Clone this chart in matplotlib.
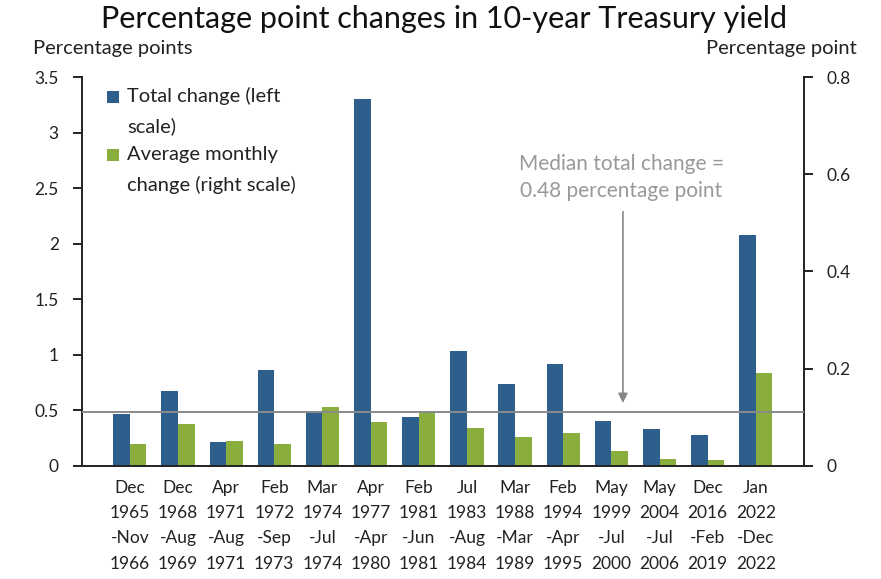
import matplotlib
matplotlib.use("Agg")
import matplotlib.pyplot as plt
from matplotlib.patches import Rectangle
import numpy as np

categories = ["Dec\n1965\n-Nov\n1966", "Dec\n1968\n-Aug\n1969", "Apr\n1971\n-Aug\n1971",
              "Feb\n1972\n-Sep\n1973", "Mar\n1974\n-Jul\n1974", "Apr\n1977\n-Apr\n1980",
              "Feb\n1981\n-Jun\n1981", "Jul\n1983\n-Aug\n1984", "Mar\n1988\n-Mar\n1989",
              "Feb\n1994\n-Apr\n1995", "May\n1999\n-Jul\n2000", "May\n2004\n-Jul\n2006",
              "Dec\n2016\n-Feb\n2019", "Jan\n2022\n-Dec\n2022"]
total_change = [0.47, 0.67, 0.21, 0.86, 0.49, 3.30, 0.44, 1.03, 0.74, 0.92, 0.40, 0.33, 0.28, 2.08]
avg_monthly = [0.045, 0.085, 0.051, 0.045, 0.121, 0.091, 0.111, 0.078, 0.060, 0.067, 0.030, 0.014, 0.011, 0.190]
median_total = 0.48
left_ticks = [0, 0.5, 1, 1.5, 2, 2.5, 3, 3.5]
left_ticklabels = ["0", "0.5", "1", "1.5", "2", "2.5", "3", "3.5"]
right_ticks = [0, 0.2, 0.4, 0.6, 0.8]
right_ticklabels = ["0", "0.2", "0.4", "0.6", "0.8"]

FONT = ["Lato", "DejaVu Sans"]
plt.rcParams['font.family'] = FONT

BLUE = "#2E5E8C"
GREEN = "#8AAE3E"
GREY = "#999999"
DARK = "#222222"

fig = plt.figure(figsize=(8.81, 5.79), dpi=100)
ax = fig.add_axes([0.0927, 0.1957, 0.9126 - 0.0927, 0.8665 - 0.1957])
ax2 = ax.twinx()

x = np.arange(len(categories))
w = 0.345
ax.bar(x - w / 2, total_change, width=w, color=BLUE, zorder=2)
ax2.bar(x + w / 2, avg_monthly, width=w, color=GREEN, zorder=2)
ax.axhline(median_total, color="#8a8a8a", lw=1.4, zorder=3)

ax.set_xlim(-1, 14)
ax.set_ylim(0, 3.5)
ax2.set_ylim(0, 0.8)

ax.set_yticks(left_ticks)
ax.set_yticklabels(left_ticklabels)
ax2.set_yticks(right_ticks)
ax2.set_yticklabels(right_ticklabels)
ax.set_xticks(x)
ax.set_xticklabels(categories, linespacing=1.72)

for a in (ax, ax2):
    a.spines['top'].set_visible(False)
    for s in a.spines.values():
        s.set_linewidth(1.4)
        s.set_color(DARK)
ax.spines['right'].set_visible(False)
ax2.spines['left'].set_visible(False)
ax2.spines['bottom'].set_visible(False)

ax.tick_params(axis='y', direction='out', length=6.5, width=1.4, labelsize=12.5, pad=10, colors=DARK)
ax2.tick_params(axis='y', direction='out', length=6.5, width=1.4, labelsize=12.5, pad=10, colors=DARK)
ax.tick_params(axis='x', length=0, labelsize=12.5, pad=10, colors=DARK)

ax.set_zorder(ax2.get_zorder() + 1)
ax.patch.set_visible(False)

fig.text(0.504, 0.968, "Percentage point changes in 10-year Treasury yield",
         ha="center", va="center", fontsize=22, color="#111111")
fig.text(0.037, 0.916, "Percentage points", ha="left", va="center", fontsize=14.5, color=DARK)
fig.text(0.973, 0.916, "Percentage point", ha="right", va="center", fontsize=14.5, color=DARK)

# legend (drawn in axes fraction coordinates)
trans = ax.transAxes
def ax_xy(px, py):
    return ((px - 81.7) / (804 - 81.7), (465.7 - py) / (465.7 - 77.3))

for (py, col) in [(97, BLUE), (155, GREEN)]:
    x0, y0 = ax_xy(106.7, py + 6.3)
    x1, y1 = ax_xy(119.3, py - 6.3)
    ax.add_patch(Rectangle((x0, y0), x1 - x0, y1 - y0, transform=trans,
                           facecolor=col, edgecolor="none", clip_on=False, zorder=5))
for (py, s) in [(96, "Total change (left"), (126, "scale)"),
                (155, "Average monthly"), (185, "change (right scale)")]:
    tx, ty = ax_xy(127, py)
    ax.text(tx, ty, s, transform=trans, ha="left", va="center", fontsize=14.5, color=DARK)

# annotation
ax.text(10.21, 2.6, "Median total change =\n0.48 percentage point", ha="center", va="center",
        fontsize=15, color=GREY, linespacing=1.45)
ax.annotate("", xy=(10.24, 0.565), xytext=(10.24, 2.29),
            arrowprops=dict(arrowstyle="-|>", color="#888888", lw=1.2, mutation_scale=14,
                            shrinkA=0, shrinkB=0))

fig.savefig("out.png", dpi=100)
